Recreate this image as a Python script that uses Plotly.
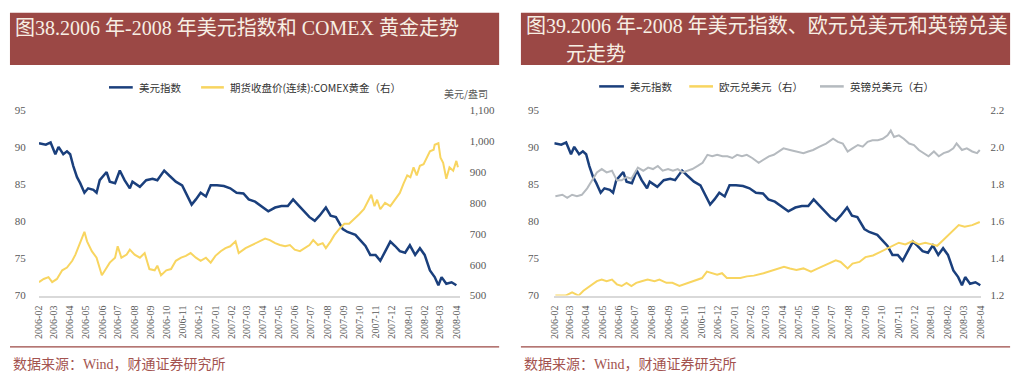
import pandas as pd
import plotly.graph_objects as go

START = "2006-02-01"

# ---- US dollar index (days since 2006-02-01, value) ----
usd_days = [0, 13, 22, 31, 37, 46, 53, 59, 65, 72, 78, 86, 93, 103, 109, 115, 128, 134, 144, 153,
            162, 172, 177, 191, 203, 215, 224, 237, 247, 259, 271, 281, 289, 297, 306, 316, 325, 337,
            350, 362, 374, 387, 397, 409, 421, 434, 447, 459, 471, 481, 490, 503, 512, 522, 531, 543,
            552, 562, 569, 575, 584, 593, 599, 608, 618, 627, 637, 646, 655, 665, 674, 683, 693, 702,
            712, 721, 730, 740, 749, 756, 762, 771, 781, 790]
usd_vals = [90.6, 90.4, 90.7, 89.1, 90.1, 89.1, 89.5, 89.1, 87.5, 86.0, 85.2, 83.9, 84.5, 84.3, 83.9,
            85.6, 86.7, 85.4, 85.2, 86.9, 85.6, 84.5, 85.4, 84.7, 85.6, 85.8, 85.6, 86.9, 86.2, 85.4,
            84.9, 83.4, 82.3, 83.0, 83.9, 83.4, 84.9, 84.9, 84.8, 84.5, 83.9, 83.8, 83.0, 82.7, 82.1,
            81.4, 81.9, 82.1, 82.1, 83.0, 82.3, 81.3, 80.6, 80.1, 80.8, 81.9, 80.8, 80.6, 79.7, 79.0,
            78.6, 78.4, 78.2, 77.5, 76.7, 75.5, 75.5, 74.7, 76.0, 77.3, 76.7, 76.0, 75.8, 76.8, 75.5,
            76.4, 75.5, 73.4, 72.5, 71.4, 72.5, 71.6, 71.8, 71.4]

# ---- COMEX gold continuous futures close, USD/oz ----
gold_days = [0, 9, 18, 25, 34, 44, 53, 63, 69, 76, 86, 91, 100, 109, 119, 125, 134, 144, 149, 156,
             166, 172, 181, 191, 200, 209, 219, 224, 231, 241, 250, 259, 269, 278, 287, 297, 306, 316,
             325, 334, 344, 353, 362, 372, 378, 391, 402, 416, 428, 437, 447, 456, 466, 475, 484, 494,
             503, 512, 519, 528, 537, 543, 552, 559, 569, 578, 587, 597, 606, 615, 625, 629, 635, 640,
             646, 655, 665, 674, 683, 690, 697, 703, 709, 715, 721, 728, 734, 740, 747, 749, 756, 760,
             765, 771, 777, 784, 790, 793]
gold_vals = [544, 554, 560, 544, 554, 582, 591, 613, 633, 664, 707, 676, 644, 623, 566, 582, 607, 623,
             660, 623, 633, 649, 633, 623, 638, 586, 582, 597, 566, 582, 586, 613, 623, 629, 638, 623,
             613, 623, 607, 629, 644, 654, 660, 676, 638, 654, 664, 676, 685, 680, 670, 664, 660, 664,
             649, 644, 654, 664, 680, 664, 670, 654, 676, 696, 717, 733, 733, 748, 764, 780, 816, 827,
             790, 811, 780, 801, 790, 811, 833, 863, 890, 884, 916, 890, 921, 926, 947, 968, 973, 989,
             994, 947, 931, 879, 916, 905, 937, 916]

# ---- EUR/USD ----
eur_days = [2, 21, 33, 45, 54, 67, 79, 88, 97, 107, 116, 125, 134, 143, 152, 162, 173, 186, 195, 208,
            219, 232, 241, 254, 265, 274, 283, 293, 302, 311, 320, 333, 345, 357, 370, 388, 407, 426,
            437, 449, 462, 476, 489, 502, 513, 522, 531, 544, 553, 566, 577, 591, 603, 614, 627, 639,
            651, 664, 676, 688, 700, 710, 719, 731, 740, 750, 761, 775, 789]
eur_vals = [1.200, 1.200, 1.217, 1.200, 1.226, 1.252, 1.278, 1.287, 1.278, 1.287, 1.261, 1.252, 1.269,
            1.252, 1.269, 1.278, 1.287, 1.278, 1.287, 1.269, 1.269, 1.252, 1.261, 1.278, 1.287, 1.295,
            1.330, 1.321, 1.313, 1.321, 1.295, 1.295, 1.295, 1.304, 1.308, 1.321, 1.339, 1.356, 1.347,
            1.339, 1.347, 1.330, 1.347, 1.365, 1.382, 1.391, 1.382, 1.347, 1.373, 1.382, 1.408, 1.417,
            1.434, 1.451, 1.469, 1.486, 1.477, 1.494, 1.477, 1.486, 1.477, 1.469, 1.494, 1.529, 1.555,
            1.581, 1.572, 1.581, 1.598]

# ---- GBP/USD ----
gbp_days = [2, 15, 24, 33, 42, 51, 61, 70, 79, 88, 97, 107, 116, 125, 134, 143, 155, 165, 174, 183,
            192, 201, 211, 220, 229, 238, 247, 256, 266, 275, 284, 293, 302, 312, 321, 330, 339, 348,
            357, 367, 379, 388, 398, 407, 416, 425, 437, 449, 462, 471, 480, 492, 504, 517, 526, 535,
            544, 553, 563, 572, 581, 590, 600, 609, 618, 624, 630, 639, 648, 658, 667, 676, 685, 694,
            704, 713, 722, 731, 740, 746, 756, 765, 775, 784, 789]
gbp_vals = [1.737, 1.745, 1.728, 1.745, 1.737, 1.745, 1.780, 1.823, 1.866, 1.884, 1.866, 1.875, 1.823,
            1.823, 1.841, 1.832, 1.892, 1.875, 1.892, 1.884, 1.901, 1.875, 1.884, 1.875, 1.884, 1.866,
            1.875, 1.884, 1.901, 1.918, 1.961, 1.953, 1.961, 1.953, 1.953, 1.944, 1.961, 1.953, 1.961,
            1.944, 1.918, 1.935, 1.953, 1.961, 1.979, 1.996, 1.987, 1.979, 1.970, 1.979, 1.987, 2.005,
            2.022, 2.048, 2.031, 2.022, 1.979, 1.996, 2.014, 2.005, 2.031, 2.040, 2.040, 2.048, 2.066,
            2.092, 2.057, 2.066, 2.048, 2.022, 2.014, 1.987, 1.970, 1.953, 1.979, 1.953, 1.970, 1.979,
            1.996, 2.022, 1.987, 1.996, 1.979, 1.970, 1.987]

left_title = "图38.2006 年-2008 年美元指数和 COMEX 黄金走势"
right_title_1 = "图39.2006 年-2008 年美元指数、欧元兑美元和英镑兑美"
right_title_2 = "元走势"
source_text = "数据来源：Wind，财通证券研究所"
left_legend = ["美元指数", "期货收盘价(连续):COMEX黄金（右）"]
right_legend = ["美元指数", "欧元兑美元（右）", "英镑兑美元（右）"]
unit_label = "美元/盎司"


def to_dates(days):
    return pd.Timestamp(START) + pd.to_timedelta(days, unit="D")


W, H = 1024, 382
BLUE = "#1a3f7c"
YELLOW = "#f8d560"
GRAY = "#b5babf"
RED = "#9b4845"
TICK = "#595959"
SERIF = "Liberation Serif, Noto Sans CJK SC, serif"
CJK = "Noto Sans CJK SC, sans-serif"


def px(x):
    return x / W


def py(y):
    return 1 - y / H


fig = go.Figure()
fig.add_trace(go.Scatter(x=to_dates(gold_days), y=gold_vals, xaxis="x", yaxis="y2", mode="lines",
                         line=dict(color=YELLOW, width=2), showlegend=False))
fig.add_trace(go.Scatter(x=to_dates(usd_days), y=usd_vals, xaxis="x", yaxis="y", mode="lines",
                         line=dict(color=BLUE, width=2.5), showlegend=False))
fig.add_trace(go.Scatter(x=to_dates(gbp_days), y=gbp_vals, xaxis="x2", yaxis="y4", mode="lines",
                         line=dict(color=GRAY, width=2), showlegend=False))
fig.add_trace(go.Scatter(x=to_dates(eur_days), y=eur_vals, xaxis="x2", yaxis="y4", mode="lines",
                         line=dict(color=YELLOW, width=2), showlegend=False))
fig.add_trace(go.Scatter(x=to_dates(usd_days), y=usd_vals, xaxis="x2", yaxis="y3", mode="lines",
                         line=dict(color=BLUE, width=2.5), showlegend=False))

ydom = [py(299), py(108)]
xcommon = dict(type="date", dtick="M1", tick0=START, tickformat="%Y-%m", tickangle=-90,
               showgrid=False, zeroline=False, showline=True, linecolor="#d9d9d9", linewidth=2,
               ticks="outside", ticklen=4, tickcolor="rgba(0,0,0,0)",
               tickfont=dict(family=SERIF, size=10, color=TICK))
ycommon = dict(showgrid=False, zeroline=False, showline=False, ticks="outside",
               tickcolor="rgba(0,0,0,0)", tickfont=dict(family=SERIF, size=11, color=TICK),
               domain=ydom)

fig.update_layout(
    width=W, height=H, margin=dict(l=0, r=0, t=0, b=0),
    paper_bgcolor="white", plot_bgcolor="white", showlegend=False,
    xaxis=dict(domain=[px(33.3), px(458)], range=[START, "2008-04-07"], anchor="y", **xcommon),
    yaxis=dict(range=[70, 95], tickvals=[70, 75, 80, 85, 90, 95], anchor="x", ticklen=10, **ycommon),
    yaxis2=dict(range=[500, 1100], tickvals=[500, 600, 700, 800, 900, 1000, 1100], tickformat=",",
                overlaying="y", side="right", anchor="x", ticklen=7, **ycommon),
    xaxis2=dict(domain=[px(553.7), px(985)], range=[START, "2008-04-03"], anchor="y3", **xcommon),
    yaxis3=dict(range=[70, 95], tickvals=[70, 75, 80, 85, 90, 95], anchor="x2", ticklen=12, **ycommon),
    yaxis4=dict(range=[1.2, 2.2], tickvals=[1.2, 1.4, 1.6, 1.8, 2.0, 2.2], tickformat=".1f",
                overlaying="y3", side="right", anchor="x2", ticklen=6, **ycommon),
)

shapes = []
annotations = []

# title bars
for x0, x1 in [(4, 498), (520, 1014)]:
    shapes.append(dict(type="rect", xref="paper", yref="paper", x0=px(x0), x1=px(x1),
                       y0=py(61), y1=py(7), fillcolor=RED, line=dict(width=0), layer="below"))
    shapes.append(dict(type="line", xref="paper", yref="paper", x0=px(x0), x1=px(x1),
                       y0=py(352), y1=py(352), line=dict(color=RED, width=1.2)))

title_font = dict(family=SERIF, size=20, color="#f7efe4")
annotations.append(dict(text=left_title, x=px(7), y=py(23), xref="paper", yref="paper",
                        xanchor="left", yanchor="middle", showarrow=False, font=title_font))
annotations.append(dict(text=right_title_1, x=px(523), y=py(21), xref="paper", yref="paper",
                        xanchor="left", yanchor="middle", showarrow=False, font=title_font))
annotations.append(dict(text=right_title_2, x=px(564), y=py(50), xref="paper", yref="paper",
                        xanchor="left", yanchor="middle", showarrow=False, font=title_font))

# source notes
for x in (5, 521):
    annotations.append(dict(text=source_text, x=px(x), y=py(370), xref="paper", yref="paper",
                            xanchor="left", yanchor="middle", showarrow=False,
                            font=dict(family=SERIF, size=14, color="#a3534f")))

# legends
leg_font = dict(family=CJK, size=10.5, color="#333333")
left_items = [(104, 128, BLUE, left_legend[0]), (197, 220, YELLOW, left_legend[1])]
right_items = [(599, 624, BLUE, right_legend[0]), (690, 714, YELLOW, right_legend[1]),
               (822, 846, GRAY, right_legend[2])]
for items, ly in ((left_items, 84), (right_items, 83)):
    for x0, x1, col, txt in items:
        shapes.append(dict(type="line", xref="paper", yref="paper", x0=px(x0), x1=px(x1),
                           y0=py(ly), y1=py(ly), line=dict(color=col, width=2.5)))
        annotations.append(dict(text=txt, x=px(x1 + 4), y=py(ly), xref="paper", yref="paper",
                                xanchor="left", yanchor="middle", showarrow=False, font=leg_font))

annotations.append(dict(text=unit_label, x=px(465), y=py(90), xref="paper", yref="paper",
                        xanchor="center", yanchor="middle", showarrow=False,
                        font=dict(family=CJK, size=10, color=TICK)))

fig.update_layout(shapes=shapes, annotations=annotations)
fig.write_html("out.html", config={"displayModeBar": False},
               post_script="document.body.style.margin='0px';")
